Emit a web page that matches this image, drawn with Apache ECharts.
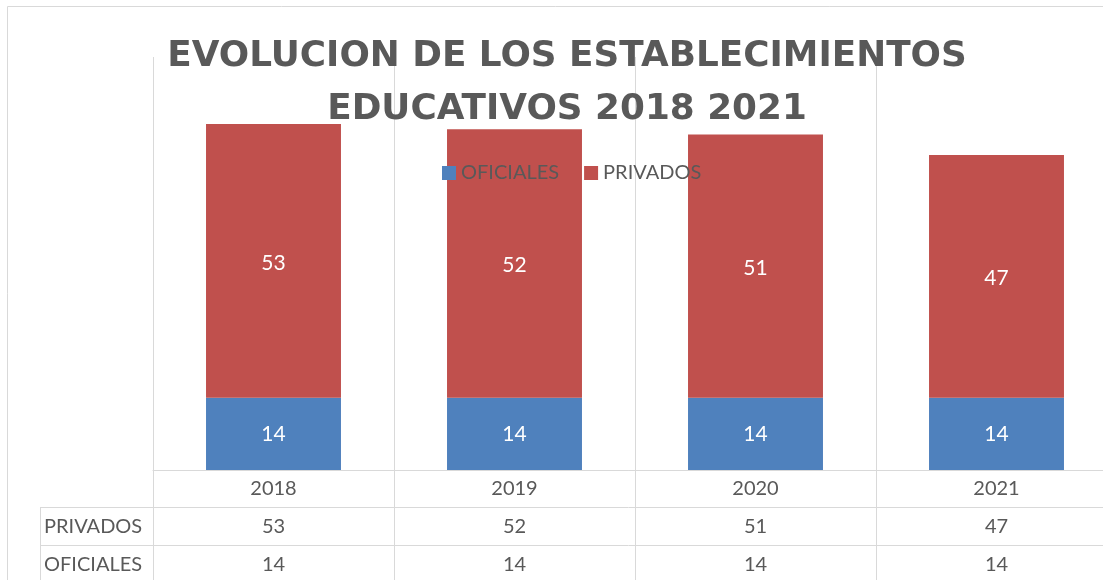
<!DOCTYPE html>
<html>
<head>
<meta charset="utf-8">
<script src="https://cdn.jsdelivr.net/npm/echarts@6/dist/echarts.min.js"></script>
<style>
  html, body { margin: 0; padding: 0; background: #fff; }
  #chart { width: 1103px; height: 580px; }
</style>
</head>
<body>
<div id="chart"></div>
<script>
// datos
var years = ["2018", "2019", "2020", "2021"];
var oficiales = [14, 14, 14, 14];
var privados = [53, 52, 51, 47];
var tableRows = ["", "PRIVADOS", "OFICIALES"];

var lineColor = "#d9d9d9";
var textColor = "#595959";
var font = "Lato";

// celdas de la tabla de datos: [columna, fila]
var cells = [];
years.forEach(function (y, i) {
  cells.push({ value: [i, 0], text: y });
  cells.push({ value: [i, 1], text: String(privados[i]) });
  cells.push({ value: [i, 2], text: String(oficiales[i]) });
});

var chart = echarts.init(document.getElementById("chart"));

var option = {
  animation: false,
  title: {
    text: "EVOLUCION DE LOS ESTABLECIMIENTOS\nEDUCATIVOS 2018 2021",
    left: 562,
    top: 25,
    textAlign: "center",
    textStyle: {
      fontFamily: "DejaVu Sans",
      fontSize: 35.8,
      fontWeight: "bold",
      color: textColor,
      lineHeight: 53
    }
  },
  legend: {
    left: 437,
    top: 158,
    icon: "rect",
    itemWidth: 14,
    itemHeight: 14,
    itemGap: 25,
    textStyle: { fontFamily: font, fontSize: 20, color: textColor },
    data: ["OFICIALES", "PRIVADOS"]
  },
  graphic: [
    {
      type: "rect",
      shape: { x: 7.5, y: 6.5, width: 1200, height: 700 },
      style: { fill: "none", stroke: lineColor, lineWidth: 1 },
      silent: true
    }
  ],
  grid: [
    { left: 153, width: 964, top: 57, height: 413, outerBoundsMode: "none" },
    { left: 153, width: 964, top: 470, height: 113, outerBoundsMode: "none" },
    { left: 40, width: 113, top: 470 + 113 / 3, height: 113 * 2 / 3, outerBoundsMode: "none" }
  ],
  xAxis: [
    {
      type: "category",
      gridIndex: 0,
      data: years,
      axisLine: { lineStyle: { color: lineColor } },
      axisTick: { show: false },
      axisLabel: { show: false },
      splitLine: { show: true, lineStyle: { color: lineColor } }
    },
    {
      type: "category",
      gridIndex: 1,
      data: years,
      axisLine: { show: false },
      axisTick: { show: false },
      axisLabel: { show: false },
      splitLine: { show: true, lineStyle: { color: lineColor } }
    },
    {
      type: "category",
      gridIndex: 2,
      data: [""],
      axisLine: { show: false },
      axisTick: { show: false },
      axisLabel: { show: false },
      splitLine: { show: true, lineStyle: { color: lineColor } }
    }
  ],
  yAxis: [
    {
      type: "value",
      gridIndex: 0,
      min: 0,
      max: 80,
      axisLine: { show: false },
      axisTick: { show: false },
      axisLabel: { show: false },
      splitLine: { show: false }
    },
    {
      type: "category",
      gridIndex: 1,
      inverse: true,
      data: tableRows,
      axisLine: { show: false },
      axisTick: { show: false },
      axisLabel: { show: false },
      splitLine: { show: true, interval: 0, lineStyle: { color: lineColor } }
    },
    {
      type: "category",
      gridIndex: 2,
      inverse: true,
      data: tableRows.slice(1),
      axisLine: { show: false },
      axisTick: { show: false },
      axisLabel: {
        inside: true,
        margin: 4,
        align: "left",
        fontFamily: font,
        fontSize: 20,
        color: textColor
      },
      splitLine: { show: true, interval: 0, lineStyle: { color: lineColor } }
    }
  ],
  series: [
    {
      name: "OFICIALES",
      type: "bar",
      stack: "total",
      barCategoryGap: "44%",
      itemStyle: { color: "#4f81bd" },
      label: {
        show: true,
        position: "inside",
        fontFamily: font,
        fontSize: 21,
        color: "#fff"
      },
      data: oficiales
    },
    {
      name: "PRIVADOS",
      type: "bar",
      stack: "total",
      barCategoryGap: "44%",
      itemStyle: { color: "#c0504d" },
      label: {
        show: true,
        position: "inside",
        fontFamily: font,
        fontSize: 21,
        color: "#fff",
        offset: [0, 2]
      },
      data: privados
    },
    {
      type: "custom",
      xAxisIndex: 1,
      yAxisIndex: 1,
      silent: true,
      data: cells.map(function (c) { return c.value; }),
      renderItem: function (params, api) {
        var p = api.coord([api.value(0), api.value(1)]);
        return {
          type: "text",
          x: p[0],
          y: p[1],
          style: {
            text: cells[params.dataIndex].text,
            fontFamily: font,
            fontSize: 20,
            fill: textColor,
            align: "center",
            verticalAlign: "middle"
          }
        };
      }
    }
  ]
};

chart.setOption(option);
</script>
</body>
</html>
